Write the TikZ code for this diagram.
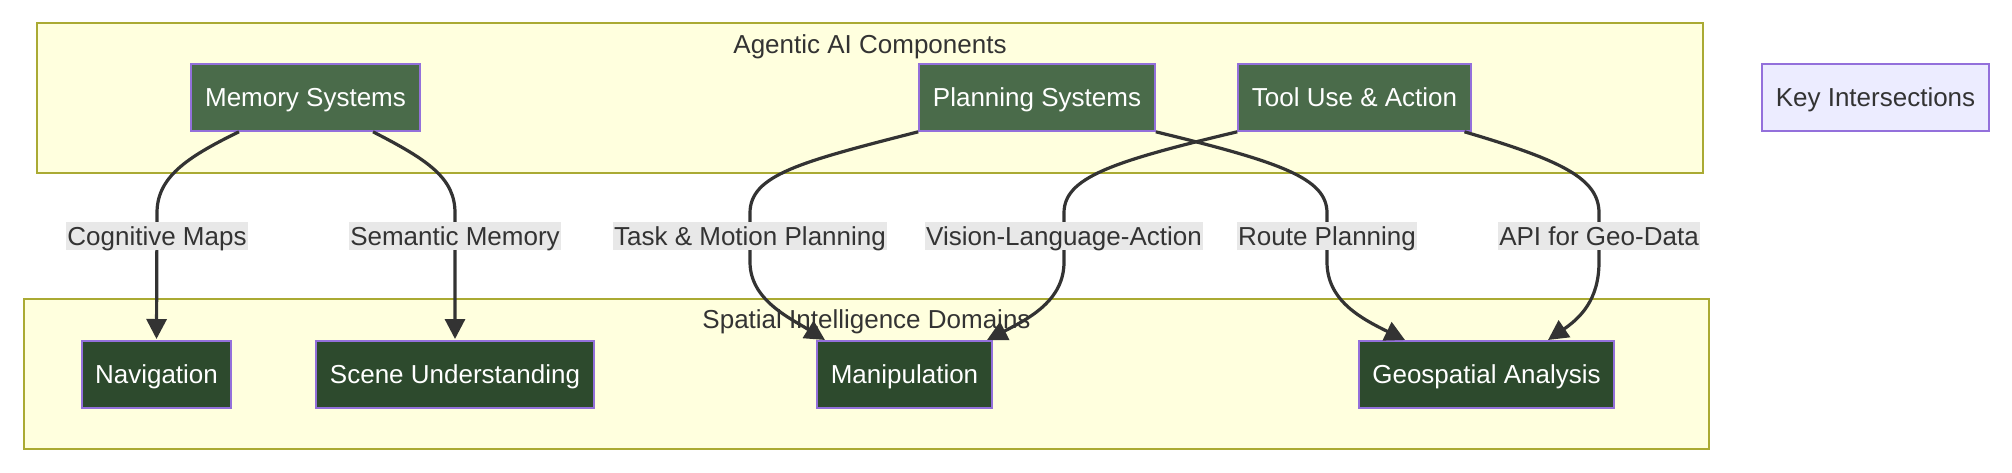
\documentclass[tikz,border=0pt]{standalone}
\usepackage{fontspec}
\setmainfont{Liberation Sans}
\usetikzlibrary{arrows.meta}
\definecolor{clfill}{HTML}{FFFFDE}
\definecolor{cldraw}{HTML}{AAAA33}
\definecolor{topfill}{HTML}{4A6B4A}
\definecolor{botfill}{HTML}{2D4A2D}
\definecolor{ndraw}{HTML}{9370DB}
\definecolor{keyfill}{HTML}{ECECFF}
\definecolor{txt}{HTML}{333333}
\definecolor{lblfill}{HTML}{E8E8E8}
\begin{document}
\begin{tikzpicture}[x=1pt,y=-1pt,
  box/.style={draw=ndraw, line width=1.6pt, minimum height=67pt, inner sep=0pt,
    text height=21pt, text depth=3pt, font=\fontsize{26}{31}\selectfont},
  topbox/.style={box, fill=topfill, text=white},
  botbox/.style={box, fill=botfill, text=white},
  keybox/.style={box, fill=keyfill, text=txt},
  cluster/.style={draw=cldraw, fill=clfill, line width=1.6pt, inner sep=0pt},
  ctitle/.style={text=txt, font=\fontsize{26}{31}\selectfont, inner sep=0pt, anchor=base},
  lbl/.style={fill=lblfill, text=txt, font=\fontsize{26}{31}\selectfont, inner xsep=1pt,
    inner ysep=2pt, text height=21pt, text depth=3pt},
  conn/.style={draw=txt, line width=3.2pt, -{Triangle[length=20pt,width=20pt]}}
]
\useasboundingbox (0,0) rectangle (2012,472);
\fill[white] (0,0) rectangle (2012,472);

% clusters
\node[cluster, minimum width=1666pt, minimum height=150pt] (agentic) at (870,98) {};
\node[cluster, minimum width=1685pt, minimum height=150pt] (spatial) at (866.5,374) {};
\node[ctitle] (agtitle) at (870,53) {Agentic AI Components};
\node[ctitle] (sptitle) at (866.5,328) {Spatial Intelligence Domains};

% nodes
\node[topbox, minimum width=229pt] (mem) at (305.5,97.5) {Memory Systems};
\node[topbox, minimum width=236pt] (plan) at (1037,97.5) {Planning Systems};
\node[topbox, minimum width=233pt] (tool) at (1354.5,97.5) {Tool Use \& Action};
\node[keybox, minimum width=227pt] (key) at (1875.5,97.5) {Key Intersections};

\node[botbox, minimum width=149pt, anchor=north] (nav) at (156.5,340) {Navigation};
\node[botbox, minimum width=278pt, anchor=north] (scene) at (455,340) {Scene Understanding};
\node[botbox, minimum width=175pt, anchor=north] (manip) at (904.5,340) {Manipulation};
\node[botbox, minimum width=255pt, anchor=north] (geo) at (1486.5,340) {Geospatial Analysis};

% edges
\draw[conn] ([xshift=-66.5pt]mem.south) .. controls (185,158) and (157,178) .. (157,213) -- ([yshift=1pt]nav.north);
\draw[conn] ([xshift=67.5pt]mem.south) .. controls (428,160) and (455,178) .. (455,213) -- ([yshift=1pt]scene.north);
\draw[conn] (plan.south west) .. controls (800,162) and (750,175) .. (750,213) -- (750,262)
  .. controls (750,300) and (790,318) .. ([xshift=-79.5pt]manip.north);
\draw[conn] (tool.south west) .. controls (1110,162) and (1064,178) .. (1064,213) -- (1064,262)
  .. controls (1064,300) and (1030,318) .. ([xshift=82.5pt]manip.north);
\draw[conn] (plan.south east) .. controls (1280,162) and (1327,178) .. (1327,213) -- (1327,262)
  .. controls (1327,300) and (1360,318) .. ([xshift=-81.5pt]geo.north);
\draw[conn] ([xshift=110pt]tool.south) .. controls (1560,160) and (1599,178) .. (1599,213) -- (1599,262)
  .. controls (1599,300) and (1580,318) .. ([xshift=61.5pt]geo.north);

% edge labels
\node[lbl] (l1) at (157,236) {Cognitive Maps};
\node[lbl] (l2) at (455,236) {Semantic Memory};
\node[lbl] (l3) at (750,236) {Task \& Motion Planning};
\node[lbl] (l4) at (1064,236) {Vision-Language-Action};
\node[lbl] (l5) at (1327,236) {Route Planning};
\node[lbl] (l6) at (1599,236) {API for Geo-Data};
\end{tikzpicture}
\end{document}
